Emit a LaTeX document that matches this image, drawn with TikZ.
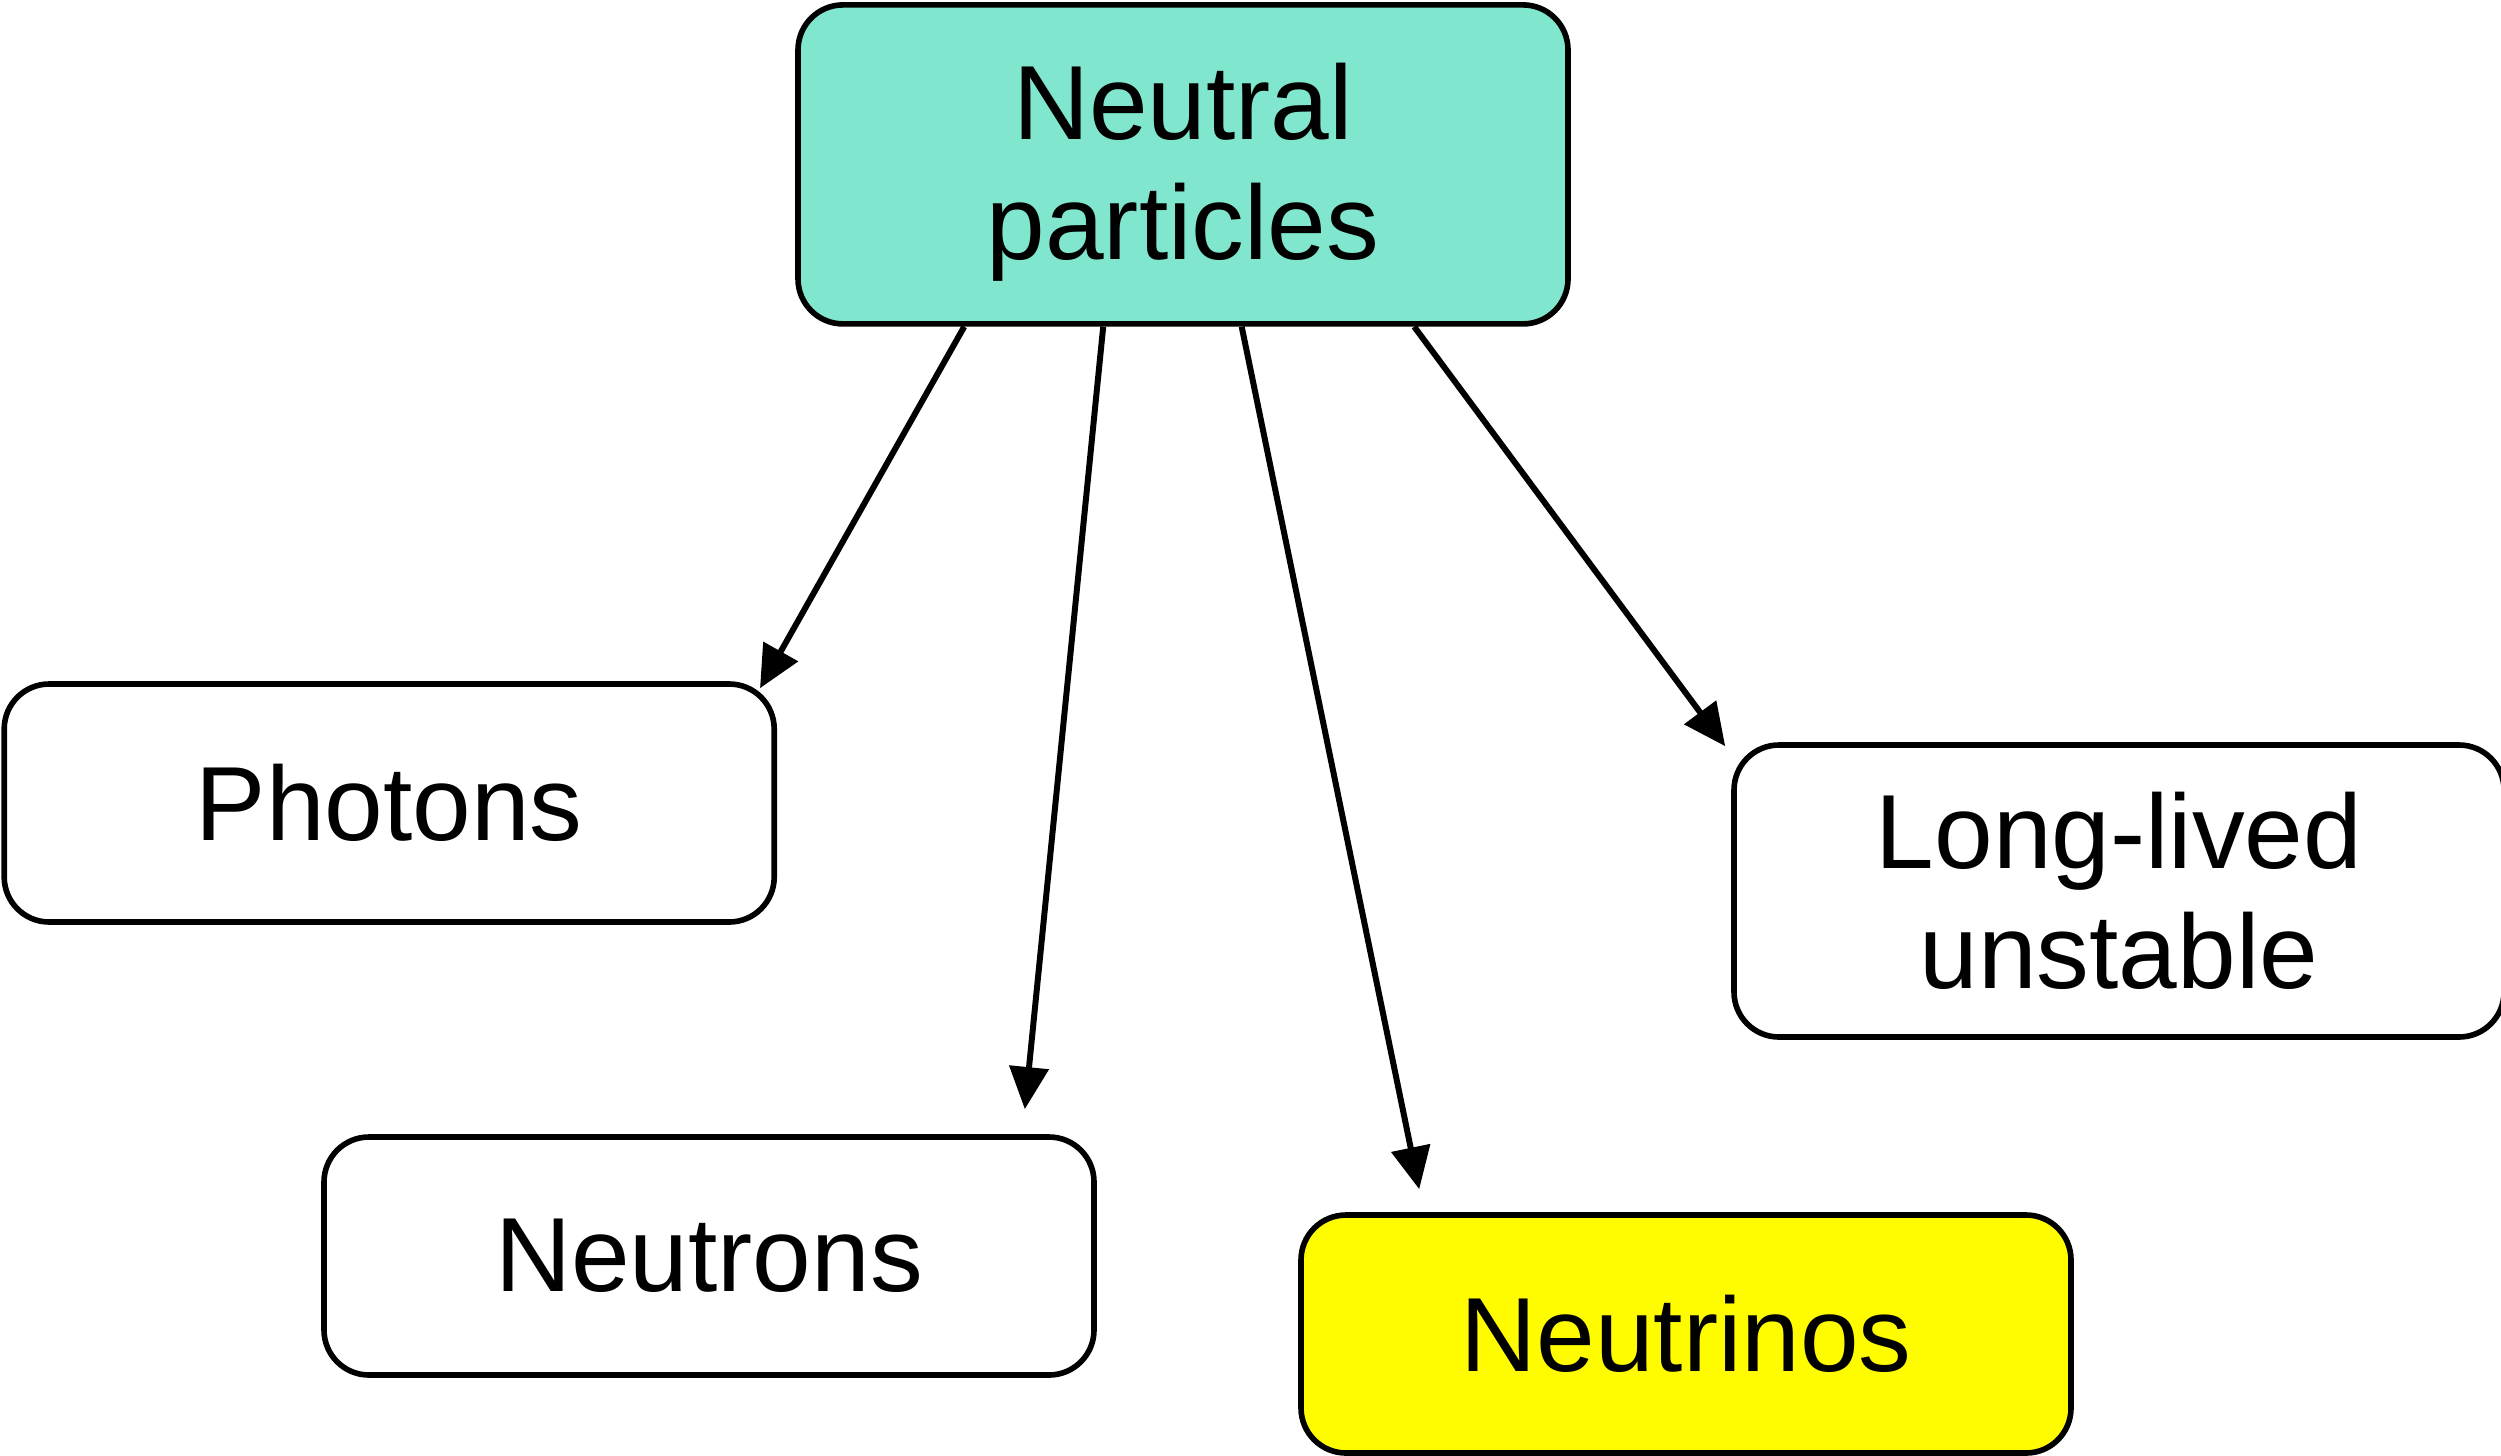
\documentclass[tikz,border=0pt]{standalone}
\usepackage{fontspec}
\setmainfont{Liberation Sans}
\usetikzlibrary{arrows.meta,calc}
\definecolor{teal}{HTML}{80E6CE}
\definecolor{yel}{HTML}{FFFC00}
\begin{document}
\begin{tikzpicture}[
  box/.style={draw=black, line width=1.6pt, rounded corners=0.45cm,
    minimum width=7.7cm, align=center, inner sep=0pt,
    font=\fontsize{30}{34}\selectfont},
  conn/.style={line width=1.7pt, -{Triangle[length=12pt,width=11pt]}}
]
\useasboundingbox (0,0) rectangle (25.01,-14.55);
\node[box, fill=teal, minimum height=3.19cm] (top) at (11.83,-1.644) {\rule{0pt}{0.92cm}Neutral\\particles};
\node[box, minimum height=2.38cm] (photons) at (3.892,-8.03) {Photons};
\node[box, minimum height=2.92cm] (long) at (21.19,-8.91) {Long-lived\\unstable};
\node[box, minimum height=2.38cm] (neutrons) at (7.09,-12.56) {Neutrons};
\node[box, fill=yel, minimum height=2.38cm] (neutrinos) at (16.86,-13.34) {Neutrinos};

\coordinate (s1) at ([xshift=1.69cm]top.south west);
\coordinate (s2) at ([xshift=3.08cm]top.south west);
\coordinate (s3) at ([xshift=4.465cm]top.south west);
\coordinate (s4) at ([xshift=6.19cm]top.south west);

\coordinate (e1) at ([xshift=-0.17cm,yshift=-0.07cm]photons.north east);
\coordinate (e2) at ([xshift=-0.72cm,yshift=0.25cm]neutrons.north east);
\coordinate (e3) at ([xshift=1.21cm,yshift=0.23cm]neutrinos.north west);
\coordinate (e4) at ([xshift=-0.06cm,yshift=-0.04cm]long.north west);

\draw[conn] (s1) -- (e1);
\draw[conn] (s2) -- (e2);
\draw[conn] (s3) -- (e3);
\draw[conn] (s4) -- (e4);
\end{tikzpicture}
\end{document}
